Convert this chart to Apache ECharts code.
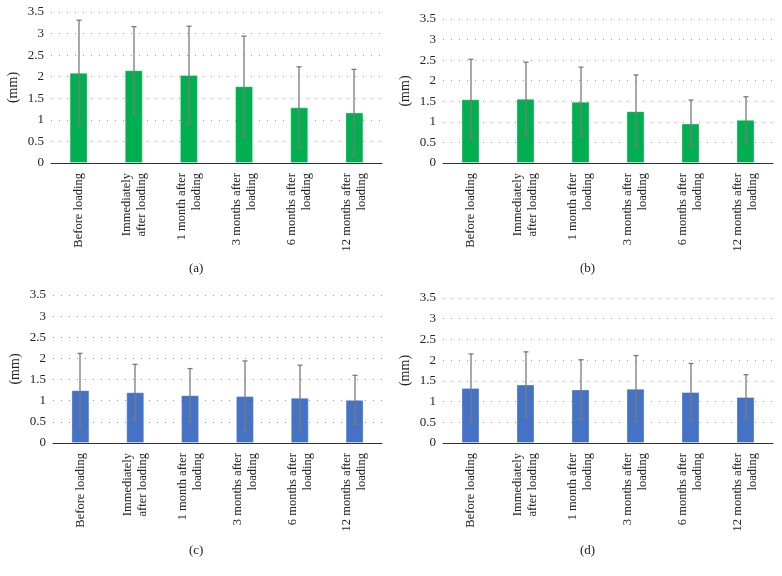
<!DOCTYPE html>
<html>
<head>
<meta charset="utf-8">
<script src="https://cdn.jsdelivr.net/npm/echarts@6/dist/echarts.min.js"></script>
<style>html,body{margin:0;padding:0;background:#fff;}#c{width:782px;height:576px;}</style>
</head>
<body>
<div id="c"></div>
<script>
const categories = ['Before loading', 'Immediately\nafter loading', '1 month after\nloading', '3 months after\nloading', '6 months after\nloading', '12 months after\nloading'];
const yTicks = [0, 0.5, 1, 1.5, 2, 2.5, 3, 3.5];
const panelLabels = ['(a)', '(b)', '(c)', '(d)'];

const meanA = [2.09, 2.15, 2.04, 1.78, 1.29, 1.17];
const sdA   = [1.22, 1.01, 1.13, 1.16, 0.94, 1.00];
const meanB = [1.55, 1.56, 1.49, 1.26, 0.96, 1.05];
const sdB   = [0.97, 0.89, 0.84, 0.88, 0.57, 0.56];
const meanC = [1.25, 1.20, 1.13, 1.11, 1.07, 1.02];
const sdC   = [0.87, 0.66, 0.63, 0.83, 0.77, 0.58];
const meanD = [1.33, 1.41, 1.29, 1.31, 1.23, 1.11];
const sdD   = [0.82, 0.79, 0.72, 0.80, 0.69, 0.54];

const means = [meanA, meanB, meanC, meanD];
const sds = [sdA, sdB, sdC, sdD];
const colors = ['#00b050', '#00b050', '#4472c4', '#4472c4'];

const FONT = 'Liberation Serif';
const grids = [
  {left: 51, right: 400, top: 12, bottom: 413},
  {left: 443, right: 9, top: 19, bottom: 413},
  {left: 53, right: 400, top: 295, bottom: 133},
  {left: 443, right: 9, top: 298, bottom: 133}
];
const titlePos = [[197, 262], [588, 262], [197, 544], [588, 544]];

const xAxis = [], yAxis = [], series = [], graphic = [];
for (let p = 0; p < 4; p++) {
  xAxis.push({
    type: 'category', gridIndex: p, data: categories,
    axisLine: {show: true, lineStyle: {color: '#333', width: 1}},
    axisTick: {show: false},
    axisLabel: {rotate: 90, interval: 0, margin: 10, fontFamily: FONT, fontSize: 12.5, color: '#222', lineHeight: 15, align: 'right', verticalAlign: 'middle'}
  });
  yAxis.push({
    type: 'value', gridIndex: p, min: yTicks[0], max: yTicks[yTicks.length - 1], interval: 0.5,
    name: '(mm)', nameLocation: 'middle', nameRotate: 90, nameGap: 31,
    nameTextStyle: {fontFamily: FONT, fontSize: 14, color: '#222'},
    axisLine: {show: false}, axisTick: {show: false},
    axisLabel: {fontFamily: FONT, fontSize: 13, color: '#222', margin: 7},
    splitLine: {show: true, lineStyle: {color: '#9a9a9a', width: 1, type: [1, 7]}}
  });
  series.push({
    type: 'bar', xAxisIndex: p, yAxisIndex: p, data: means[p], barWidth: 18,
    itemStyle: {color: colors[p], borderColor: 'rgba(255,255,255,0.3)', borderWidth: 1},
    z: 2
  });
  series.push({
    type: 'custom', xAxisIndex: p, yAxisIndex: p, z: 3,
    data: means[p].map((m, i) => [i, m - sds[p][i], m + sds[p][i]]),
    renderItem: function (params, api) {
      const lo = api.coord([api.value(0), api.value(1)]);
      const hi = api.coord([api.value(0), api.value(2)]);
      const x = Math.round(lo[0]);
      const cap = 2.5;
      const st = {stroke: '#7a7a7a', lineWidth: 1.3};
      return {type: 'group', children: [
        {type: 'line', shape: {x1: x, y1: hi[1], x2: x, y2: lo[1]}, style: st},
        {type: 'line', shape: {x1: x - cap, y1: hi[1], x2: x + cap, y2: hi[1]}, style: st},
        {type: 'line', shape: {x1: x - cap, y1: lo[1], x2: x + cap, y2: lo[1]}, style: st}
      ]};
    }
  });
  graphic.push({
    type: 'text', left: titlePos[p][0] - 8, top: titlePos[p][1],
    style: {text: panelLabels[p], font: '13px "' + FONT + '"', fill: '#222'}
  });
}

const chart = echarts.init(document.getElementById('c'), null, {renderer: 'canvas'});
chart.setOption({
  animation: false,
  grid: grids,
  xAxis: xAxis,
  yAxis: yAxis,
  series: series,
  graphic: graphic
});
</script>
</body>
</html>
